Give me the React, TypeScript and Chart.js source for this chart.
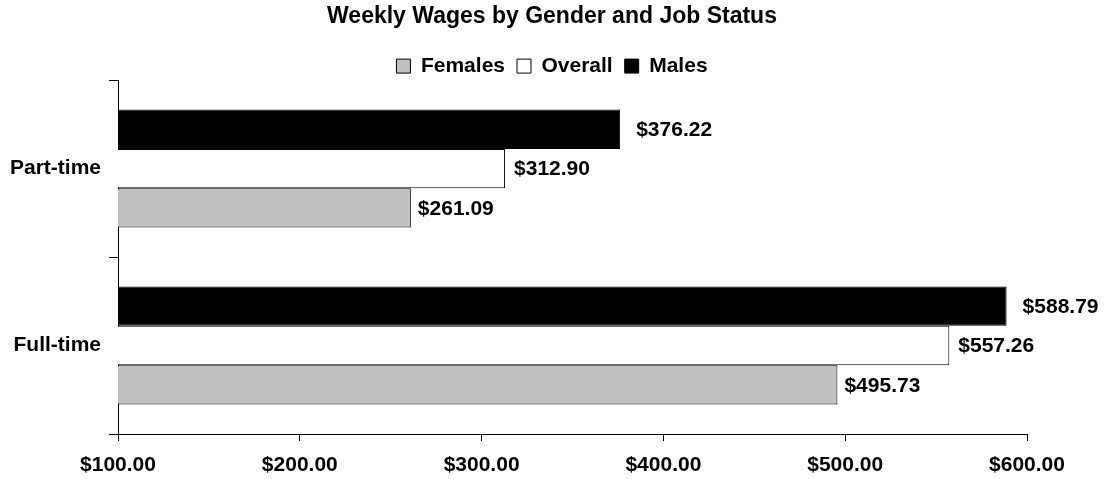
import React, { useEffect, useRef } from "react";
import { Chart, registerables } from "chart.js";

Chart.register(...registerables);

const categories = ["Part-time", "Full-time"];
const malesValues = [376.22, 588.79];
const overallValues = [312.9, 557.26];
const femalesValues = [261.09, 495.73];
const xTicks = [100, 200, 300, 400, 500, 600];

const FONT = "'Liberation Sans', Arial, sans-serif";

const valueLabelPlugin = {
  id: "valueLabels",
  afterDatasetsDraw(chart: any) {
    const ctx = chart.ctx;
    const offsets = [16, 9, 7];
    ctx.save();
    ctx.font = `bold 21px ${FONT}`;
    ctx.fillStyle = "#000";
    ctx.textAlign = "left";
    ctx.textBaseline = "middle";
    chart.data.datasets.forEach((ds: any, di: number) => {
      const meta = chart.getDatasetMeta(di);
      meta.data.forEach((bar: any, i: number) => {
        const v = ds.data[i] as number;
        ctx.fillText("$" + v.toFixed(2), bar.x + offsets[di], bar.y + 1);
      });
    });
    ctx.restore();
  },
};

const legendTrimPlugin = {
  id: "legendTrim",
  afterInit(chart: any) {
    const lg = chart.legend;
    if (!lg || lg.__trimmed) return;
    const orig = lg.fit.bind(lg);
    lg.fit = function () {
      orig();
      this.height = this.height - 6.5;
    };
    lg.__trimmed = true;
  },
};

export default function App() {
  const canvasRef = useRef<HTMLCanvasElement | null>(null);

  useEffect(() => {
    if (!canvasRef.current) return;
    Chart.defaults.font.family = FONT;
    Chart.defaults.color = "#000";
    const chart = new Chart(canvasRef.current, {
      type: "bar",
      data: {
        labels: categories,
        datasets: [
          {
            label: "Males",
            data: malesValues,
            backgroundColor: "#000000",
            borderColor: "#000000",
            borderWidth: 1,
          },
          {
            label: "Overall",
            data: overallValues,
            backgroundColor: "#FFFFFF",
            borderColor: "#000000",
            borderWidth: 1,
          },
          {
            label: "Females",
            data: femalesValues,
            backgroundColor: "#C0C0C0",
            borderColor: "#000000",
            borderWidth: 1,
          },
        ],
      },
      options: {
        indexAxis: "y",
        responsive: false,
        animation: false,
        categoryPercentage: 0.667,
        barPercentage: 1,
        layout: { padding: { left: 0, right: 0, top: 0, bottom: 0 } },
        plugins: {
          title: {
            display: true,
            text: "Weekly Wages by Gender and Job Status",
            font: { size: 23, weight: "bold", family: FONT },
            color: "#000",
            padding: { top: 3, bottom: 13 },
          },
          legend: {
            display: true,
            position: "top",
            reverse: true,
            labels: {
              boxWidth: 14,
              boxHeight: 14,
              padding: 12,
              color: "#000",
              font: { size: 21, weight: "bold", family: FONT },
            },
          },
          tooltip: { enabled: false },
        },
        scales: {
          x: {
            type: "linear",
            min: 100,
            max: 600,
            afterFit(scale: any) {
              scale.height = 45;
              scale.paddingRight = 77;
            },
            afterBuildTicks(scale: any) {
              scale.ticks = xTicks.map((v) => ({ value: v }));
            },
            ticks: {
              stepSize: 100,
              padding: 12,
              color: "#000",
              font: { size: 21, weight: "bold", family: FONT },
              callback: (v: any) => "$" + Number(v).toFixed(2),
              maxRotation: 0,
            },
            grid: {
              drawOnChartArea: false,
              drawTicks: true,
              tickLength: 7,
              color: "#000",
              lineWidth: 1,
            },
            border: { display: true, color: "#000", width: 1 },
          },
          y: {
            type: "category",
            afterFit(scale: any) {
              scale.width = 118;
            },
            ticks: {
              padding: 8,
              color: "#000",
              font: { size: 21, weight: "bold", family: FONT },
            },
            grid: {
              offset: true,
              drawOnChartArea: false,
              drawTicks: true,
              tickLength: 9,
              color: "#000",
              lineWidth: 1,
            },
            border: { display: true, color: "#000", width: 1 },
          },
        },
      },
      plugins: [valueLabelPlugin, legendTrimPlugin],
    } as any);
    return () => chart.destroy();
  }, []);

  return (
    <div
      style={{
        position: "absolute",
        top: 0,
        left: 0,
        width: 1104,
        height: 479,
        background: "#fff",
      }}
    >
      <canvas
        ref={canvasRef}
        width={1104}
        height={479}
        style={{ display: "block", width: 1104, height: 479 }}
      />
    </div>
  );
}
